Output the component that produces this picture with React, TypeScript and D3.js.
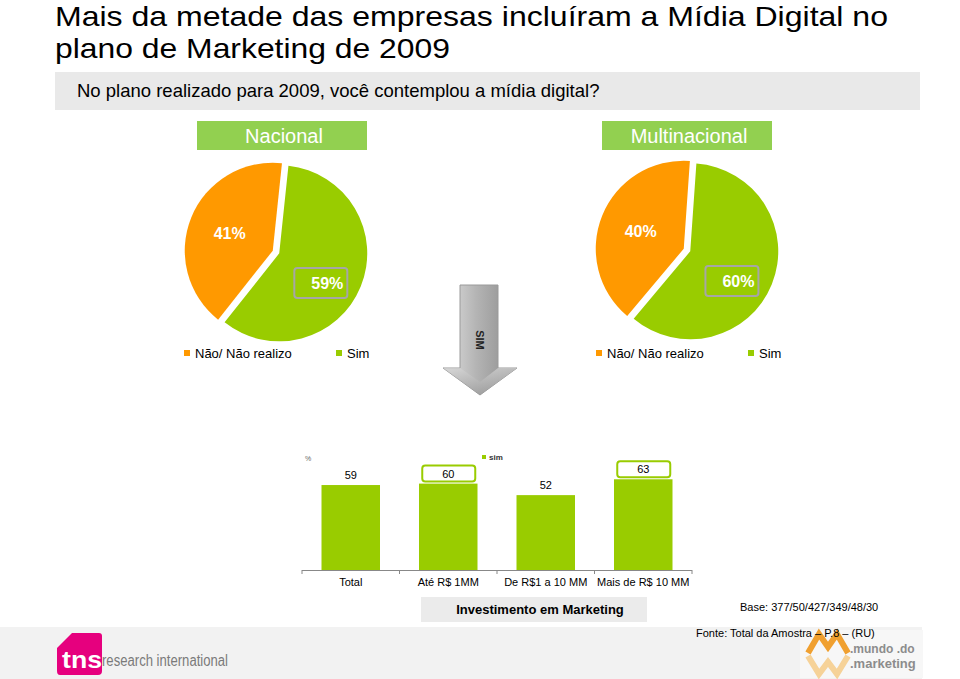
import React from "react";
import * as d3 from "d3";

// ---- data ----
const titleLines = ["Mais da metade das empresas incluíram a Mídia Digital no", "plano de Marketing de 2009"];
const titleWidths = [833, 395];
const question = "No plano realizado para 2009, você contemplou a mídia digital?";
const pieCategories = ["Sim", "Não/ Não realizo"];
const pieGroups = ["Nacional", "Multinacional"];
const nacionalValues = [59, 41];
const multinacionalValues = [60, 40];
const legendLabels = ["Não/ Não realizo", "Sim"];
const barCategories = ["Total", "Até R$ 1MM", "De R$1 a 10 MM", "Mais de R$ 10 MM"];
const barValues = [59, 60, 52, 63];
const barHighlighted = [false, true, false, true];
const baseText = "Base: 377/50/427/349/48/30";
const fonteText = "Fonte: Total da Amostra – P.8 – (RU)";

const GREEN = "#99cc00";
const ORANGE = "#ff9900";
const HEADER = "#92d050";
const FONT = "Liberation Sans, Arial, sans-serif";

type PieCfg = { cx: number; cy: number; values: number[]; rot: number; title: string; hx: number; lx: number };

const pies: PieCfg[] = [
  { cx: 276, cy: 252, values: nacionalValues, rot: 6, title: pieGroups[0], hx: 197, lx: 184 },
  { cx: 687, cy: 250, values: multinacionalValues, rot: 4, title: pieGroups[1], hx: 602, lx: 596 },
];

function Pie({ cfg }: { cfg: PieCfg }) {
  const r = 88;
  const rot = (cfg.rot * Math.PI) / 180;
  const arcs = d3
    .pie<number>()
    .sort(null)
    .startAngle(rot)
    .endAngle(rot + 2 * Math.PI)(cfg.values);
  const arcGen = d3.arc<d3.PieArcDatum<number>>().innerRadius(0).outerRadius(r);
  const colors = [GREEN, ORANGE];
  const labelR = [60, 50];
  const labelShift = [9, 0];
  const explode = 3.5;
  return (
    <g>
      <rect x={cfg.hx} y={121} width={170} height={29} fill={HEADER} />
      <text x={cfg.hx + 87} y={143} textAnchor="middle" fill="#fff" fontSize={20} fontFamily={FONT}>
        {cfg.title}
      </text>
      {arcs.map((a, i) => {
        const mid = (a.startAngle + a.endAngle) / 2;
        const ox = Math.sin(mid) * explode;
        const oy = -Math.cos(mid) * explode;
        const la = mid + (labelShift[i] * Math.PI) / 180;
        const lx = cfg.cx + Math.sin(la) * labelR[i];
        const ly = cfg.cy - Math.cos(la) * labelR[i];
        const txt = `${cfg.values[i]}%`;
        return (
          <g key={i}>
            <path d={arcGen(a) || ""} transform={`translate(${cfg.cx + ox},${cfg.cy + oy})`} fill={colors[i]} />
            {i === 0 && (
              <rect x={lx - 33} y={ly - 15} width={53} height={30} rx={3} fill="none" stroke="#a6a6a6" strokeWidth={2} />
            )}
            <text x={lx} y={ly + 6} textAnchor="middle" fill="#fff" fontWeight="bold" fontSize={16} fontFamily={FONT}>
              {txt}
            </text>
          </g>
        );
      })}
      {/* legend */}
      <rect x={cfg.lx} y={350} width={6} height={6} fill={ORANGE} />
      <text x={cfg.lx + 11} y={358} fontSize={13} fontFamily={FONT} fill="#000">
        {legendLabels[0]}
      </text>
      <rect x={cfg.lx + 152} y={350} width={6} height={6} fill={GREEN} />
      <text x={cfg.lx + 163} y={358} fontSize={13} fontFamily={FONT} fill="#000">
        {legendLabels[1]}
      </text>
    </g>
  );
}

function Bars() {
  const x = d3.scaleBand<string>().domain(barCategories).range([302, 692]).paddingInner(0.4).paddingOuter(0.2);
  const y = d3.scaleLinear().domain([0, 100]).range([570, 426]);
  const ticks = d3.range(barCategories.length + 1).map((i) => 302 + i * (390 / barCategories.length));
  return (
    <g fontFamily={FONT}>
      <text x={305} y={461} fontSize={7} fill="#666">%</text>
      <rect x={482} y={455} width={4} height={4} fill={GREEN} />
      <text x={489} y={460} fontSize={8} fontWeight="bold" fill="#333">sim</text>
      {barCategories.map((c, i) => {
        const bx = x(c)!;
        const bw = x.bandwidth();
        const top = y(barValues[i]);
        const cx = bx + bw / 2;
        return (
          <g key={c}>
            <rect x={bx} y={top} width={bw} height={y(0) - top} fill={GREEN} />
            {barHighlighted[i] && (
              <rect x={cx - 26} y={top - 18} width={53} height={16} rx={3} fill="#fff" stroke={GREEN} strokeWidth={2} />
            )}
            <text x={cx} y={top - 6} textAnchor="middle" fontSize={11} fill="#000">
              {barValues[i]}
            </text>
            <text x={cx} y={586} textAnchor="middle" fontSize={11} fill="#000">
              {c}
            </text>
          </g>
        );
      })}
      <line x1={302} x2={692} y1={570.5} y2={570.5} stroke="#888" />
      {ticks.map((t, i) => (
        <line key={i} x1={t} x2={t} y1={570} y2={574} stroke="#888" />
      ))}
    </g>
  );
}

export default function App() {
  return (
    <svg width={960} height={679} style={{ position: "absolute", left: 0, top: 0, display: "block" }}>
      <defs>
        <linearGradient id="arrowG" x1="0" x2="1" y1="0" y2="0">
          <stop offset="0" stopColor="#e0e0e0" />
          <stop offset="0.45" stopColor="#b4b4b4" />
          <stop offset="1" stopColor="#8a8a8a" />
        </linearGradient>
        <linearGradient id="headG" x1="0" x2="0" y1="0" y2="1">
          <stop offset="0" stopColor="#d4d4d4" />
          <stop offset="1" stopColor="#9a9a9a" />
        </linearGradient>
      </defs>
      <rect width={960} height={679} fill="#fff" />
      {/* title */}
      {titleLines.map((t, i) => (
        <text key={i} x={55} y={26 + i * 32} fontSize={28.5} fontFamily={FONT} fill="#000" textLength={titleWidths[i]} lengthAdjust="spacingAndGlyphs">
          {t}
        </text>
      ))}
      <rect x={55} y={72} width={865} height={38} fill="#e9e9e9" />
      <text x={77} y={97} fontSize={18.5} fontFamily={FONT} fill="#000">
        {question}
      </text>

      {pies.map((p) => (
        <Pie key={p.title} cfg={p} />
      ))}

      {/* arrow */}
      <path d="M460,285 L498,285 L498,368 L517,368 L480,395 L443,368 L460,368 Z" fill="url(#arrowG)" stroke="#9a9a9a" strokeWidth={1} />
      <path d="M443,368 L460,368 L480,382 L498,368 L517,368 L480,395 Z" fill="url(#headG)" opacity={0.7} />
      <text x={480} y={340} transform="rotate(90,480,340)" textAnchor="middle" dy={4} fontSize={11} fontWeight="bold" fontFamily={FONT} fill="#222">
        SIM
      </text>

      <Bars />

      {/* bottom band */}
      <rect x={0} y={627} width={922} height={52} fill="#f2f2f2" />
      <rect x={421} y={597} width={226} height={25} fill="#ebebeb" />
      <text x={540} y={614} textAnchor="middle" fontSize={13} fontWeight="bold" fontFamily={FONT} fill="#000">
        Investimento em Marketing
      </text>
      <text x={740} y={611} fontSize={11} fontFamily={FONT} fill="#000">
        {baseText}
      </text>

      {/* tns logo */}
      <path d="M72,633 L99,633 Q102,633 102,636 L102,671 Q102,675 98,675 L60,675 Q57,675 57,671 L57,648 Z" fill="#e6007e" />
      <text x={62} y={668} fontSize={24} fontWeight="bold" fontFamily={FONT} fill="#fff" textLength={40} lengthAdjust="spacingAndGlyphs">
        tns
      </text>
      <text x={102} y={666} fontSize={16} fontFamily="Liberation Sans Narrow, Arial Narrow, sans-serif" fill="#7a7a7a" textLength={126} lengthAdjust="spacingAndGlyphs">
        research international
      </text>

      {/* mundo do marketing logo */}
      <rect x={800} y={630} width={123} height={48} fill="#f7f7f7" />
      <path d="M808,653 L819,634 L828,647 L837,634 L848,653" fill="none" stroke="#f0a030" strokeWidth={6} strokeLinejoin="miter" />
      <path d="M808,656 L819,674 L828,662 L837,674 L848,656" fill="none" stroke="#f5c880" strokeWidth={6} opacity={0.8} />
      <text x={850} y={653} fontSize={12} fontWeight="bold" fontFamily={FONT} fill="#8c8c8c">
        .mundo .do
      </text>
      <text x={850} y={668} fontSize={13} fontWeight="bold" fontFamily={FONT} fill="#8c8c8c">
        .marketing
      </text>

      <text x={696} y={637} fontSize={11} fontFamily={FONT} fill="#000">
        {fonteText}
      </text>
    </svg>
  );
}
